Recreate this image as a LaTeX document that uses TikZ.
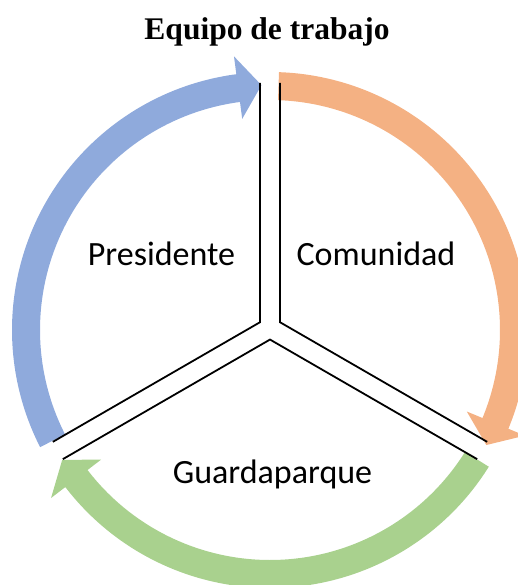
\documentclass[tikz,border=0pt]{standalone}
\usepackage{fontspec}
\setmainfont{Carlito}
\newfontfamily\titlefont{Liberation Serif}
\usetikzlibrary{calc}
\definecolor{arcblue}{HTML}{8FAADC}
\definecolor{arcorange}{HTML}{F4B183}
\definecolor{arcgreen}{HTML}{A9D18E}
\begin{document}
\begin{tikzpicture}[x=1pt,y=1pt,
  regionlabel/.style={font=\fontsize{34}{41}\selectfont, anchor=base, inner sep=0pt},
  titlelabel/.style={font=\titlefont\bfseries\fontsize{31.5}{38}\selectfont, anchor=base, inner sep=0pt},
  divider/.style={draw=black, line width=1.8pt, line join=miter}]
\useasboundingbox (0,0) rectangle (518,-585);
\coordinate (C) at (270,-330);
\coordinate (L) at (270,-328);
\newcommand\myarcarrow[3]{%
  \pgfmathsetmacro\hb{#3+5.5}%
  \fill[#1, shift={(C)}] (#2:258) arc[start angle=#2, end angle=\hb, radius=258]
    -- (\hb:276) -- (#3:245) -- (\hb:213) -- (\hb:230)
    arc[start angle=\hb, end angle=#2, radius=230] -- cycle;
}
\myarcarrow{arcblue}{207}{92}
\myarcarrow{arcorange}{88}{-28}
\myarcarrow{arcgreen}{-32}{-148}
% dividers
\coordinate (J1) at ($(L)+(150:11.55)$);
\coordinate (J2) at ($(L)+(30:11.55)$);
\coordinate (J3) at ($(L)+(270:11.55)$);
\coordinate (TL) at ($(L)+(90:245)+(180:10)$);
\coordinate (TR) at ($(L)+(90:245)+(0:10)$);
\coordinate (LU) at ($(L)+(210:245)+(120:10)$);
\coordinate (LD) at ($(L)+(210:245)+(300:10)$);
\coordinate (RU) at ($(L)+(330:245)+(60:10)$);
\coordinate (RD) at ($(L)+(330:245)+(240:10)$);
\draw[divider] (TL) -- (J1) -- (LU);
\draw[divider] (TR) -- (J2) -- (RU);
\draw[divider] (LD) -- (J3) -- (RD);
% texts
\node[titlelabel] (title) at (267,-40) {Equipo de trabajo};
\node[regionlabel] (pres) at (161.5,-265) {Presidente};
\node[regionlabel] (com) at (376,-265) {Comunidad};
\node[regionlabel] (guard) at (272.5,-483) {Guardaparque};
\end{tikzpicture}
\end{document}
